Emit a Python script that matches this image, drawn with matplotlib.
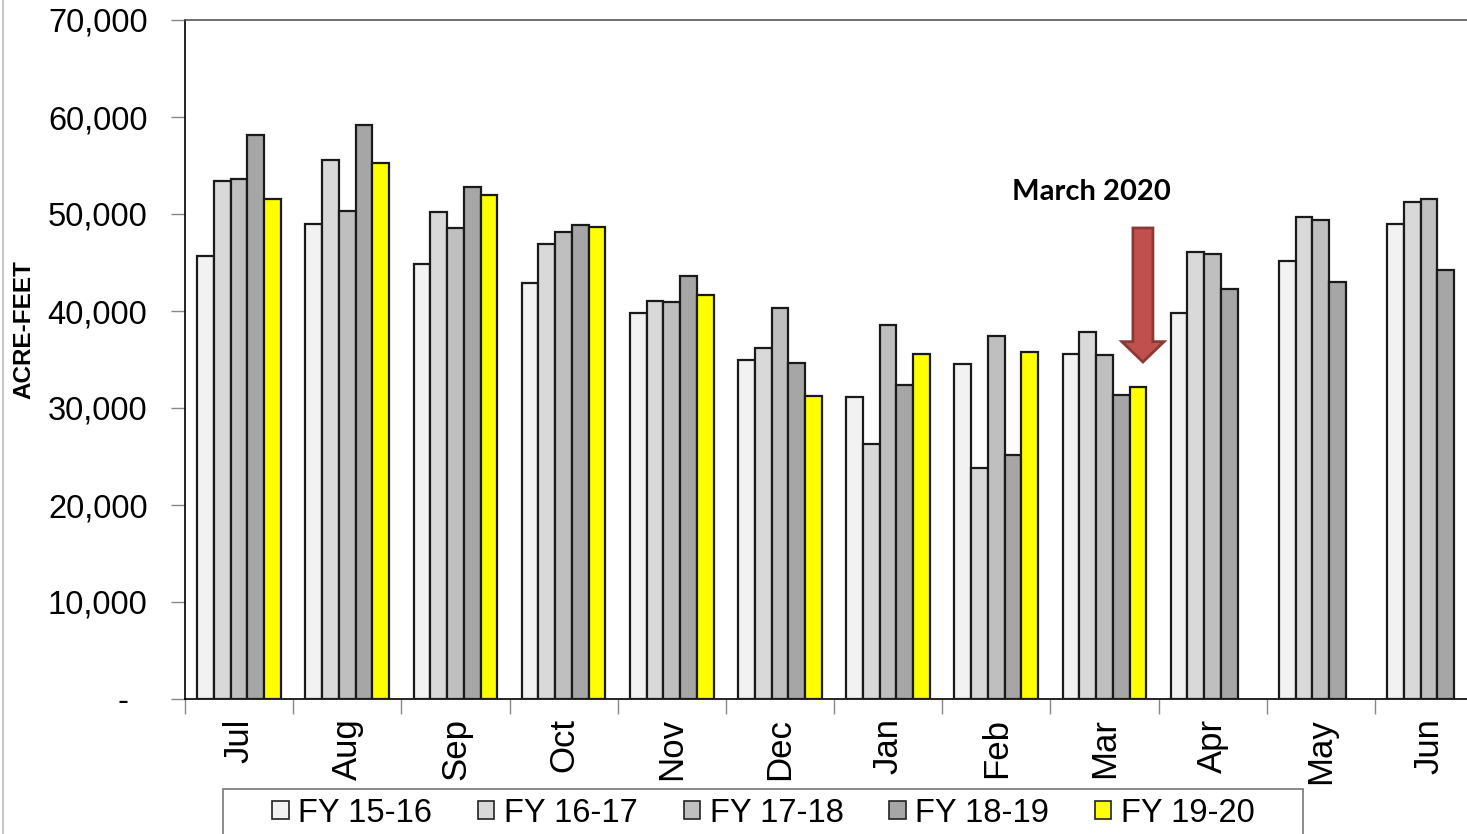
import matplotlib
matplotlib.use("Agg")
import matplotlib.pyplot as plt
import numpy as np
from matplotlib.patches import Patch, FancyArrow, Rectangle
from matplotlib.lines import Line2D
from matplotlib.ticker import FuncFormatter, FixedLocator

months = ["Jul", "Aug", "Sep", "Oct", "Nov", "Dec", "Jan", "Feb", "Mar", "Apr", "May", "Jun"]
series_names = ["FY 15-16", "FY 16-17", "FY 17-18", "FY 18-19", "FY 19-20"]
fy1516 = [45630, 49000, 44850, 42850, 39830, 34910, 31100, 34570, 35530, 39830, 45190, 48930]
fy1617 = [53370, 55570, 50240, 46940, 41060, 36190, 26320, 23810, 37800, 46050, 49650, 51270]
fy1718 = [53640, 50340, 48590, 48110, 40960, 40340, 38560, 37390, 35500, 45840, 49380, 51510]
fy1819 = [58180, 59180, 52780, 48870, 43570, 34600, 32400, 25120, 31340, 42300, 43020, 44260]
fy1920 = [51580, 55220, 51990, 48690, 41610, 31270, 35530, 35770, 32130, None, None, None]
series = [fy1516, fy1617, fy1718, fy1819, fy1920]
colors = ["#F2F2F2", "#D9D9D9", "#BFBFBF", "#A6A6A6", "#FFFF00"]
yticks = [0, 10000, 20000, 30000, 40000, 50000, 60000, 70000]
annotation = "March 2020"

plt.rcParams['font.family'] = ['Liberation Sans', 'DejaVu Sans']

W, H = 1467, 834
fig = plt.figure(figsize=(W / 100, H / 100), dpi=100)
ax = fig.add_axes([185 / W, 1 - 699 / H, (1483 - 185) / W, 679 / H])

x = np.arange(len(months))
bw = 0.155
for i, (vals, c) in enumerate(zip(series, colors)):
    xs = [xi + (i - 2) * bw for xi, v in zip(x, vals) if v is not None]
    vs = [v for v in vals if v is not None]
    ax.bar(xs, vs, width=bw, color=c, edgecolor="#1a1a1a", linewidth=1.6, zorder=3)

ax.set_xlim(-0.5, 11.5)
ax.set_ylim(0, 70000)
ax.yaxis.set_major_locator(FixedLocator(yticks))
ax.yaxis.set_major_formatter(FuncFormatter(lambda v, p: "-  " if v == 0 else f"{int(v):,}"))
ax.tick_params(axis="y", direction="out", length=10, width=1, color="#888888",
               labelsize=23.5, pad=17)

ax.set_xticks(np.arange(-0.5, 12, 1.0))
ax.set_xticklabels([])
ax.set_xticks(x, minor=True)
ax.set_xticklabels(months, minor=True, rotation=90, fontsize=25)
ax.tick_params(axis="x", which="major", direction="out", length=11, width=1, color="#888888")
ax.tick_params(axis="x", which="minor", length=0, pad=14)
for lbl in ax.get_xticklabels(minor=True):
    lbl.set_va("top")

for s in ["left", "bottom"]:
    ax.spines[s].set_color("black")
    ax.spines[s].set_linewidth(1.2)
ax.spines["top"].set_color("#555555")
ax.spines["top"].set_linewidth(1.2)
ax.spines["right"].set_visible(False)

# Annotation arrow
ax.add_patch(FancyArrow(8 + 0.356, 48560, 0, 34740 - 48560, width=0.185, head_width=0.39,
                        head_length=2100, length_includes_head=True,
                        facecolor="#C0504D", edgecolor="#8C3836", linewidth=2, zorder=5))
ax.text(8 - 0.125, 52300, annotation, ha="center", va="center", fontsize=21,
        fontweight="bold", family=["Lato", "DejaVu Sans"], zorder=6)

fig.text(24 / W, 1 - 330 / H, "ACRE-FEET", rotation=90, ha="center", va="center",
         fontsize=17.5, fontweight="bold")

# Figure border line on left
fig.add_artist(Line2D([3 / W, 3 / W], [0, 1], color="#BBBBBB", linewidth=1.2))

# Legend
fig.add_artist(Rectangle((223 / W, -0.05), (1303 - 223) / W, 0.05 + (1 - 789 / H),
                         transform=fig.transFigure, facecolor="white",
                         edgecolor="#777777", linewidth=1.2))
handles = [Patch(facecolor=c, edgecolor="#222222", linewidth=1.2) for c in colors]
leg = fig.legend(handles, series_names, loc="center left",
                 bbox_to_anchor=(256 / W, 1 - 813 / H), frameon=False, ncol=5,
                 borderpad=0, handlelength=0.5, handleheight=0.5, handletextpad=0.3,
                 columnspacing=1.4, prop={"family": ["Liberation Sans"], "size": 23.5})

fig.savefig("out.png", dpi=100)
